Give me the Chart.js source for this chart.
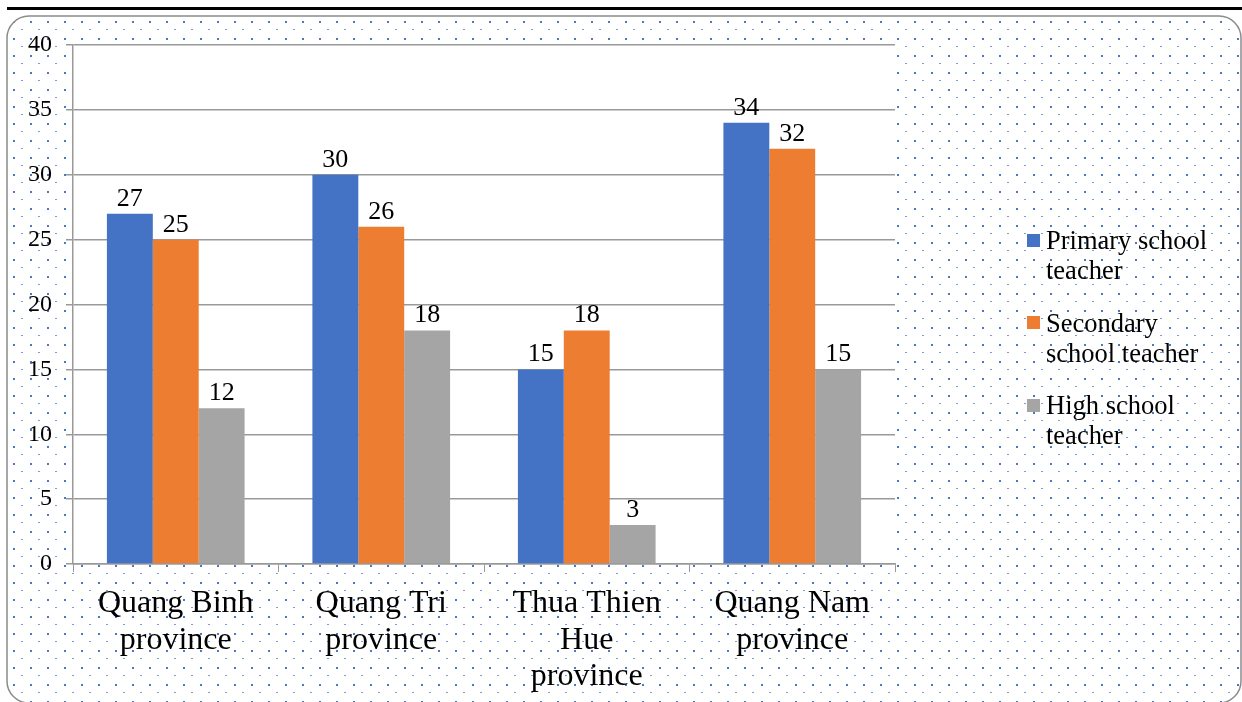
<!DOCTYPE html>
<html>
<head>
<meta charset="utf-8">
<script src="https://cdn.jsdelivr.net/npm/chart.js@4/dist/chart.umd.min.js"></script>
<style>
  html, body { margin: 0; padding: 0; background: #fff; }
  #wrap { position: relative; width: 1242px; height: 702px; overflow: hidden; }
  #chart { position: absolute; left: 0; top: 0; }
  #legend { position: absolute; left: 1027px; top: 225px; width: 195px;
            font-family: "Liberation Serif", "Times New Roman", serif; font-size: 26.5px;
            line-height: 30px; color: #000; }
  #legend .item { position: relative; padding-left: 19px; margin-bottom: 22.5px; }
  #legend .box { position: absolute; left: 0; top: 8.5px; width: 13px; height: 13px; }
</style>
</head>
<body>
<div id="wrap">
  <canvas id="chart" width="1242" height="702"></canvas>
  <div id="legend"></div>
</div>
<script>
const categories = [
    ["Quang Binh", "province"],
    ["Quang Tri", "province"],
    ["Thua Thien", "Hue", "province"],
    ["Quang Nam", "province"]
];
const seriesNames = ["Primary school teacher", "Secondary school teacher", "High school teacher"];
const seriesColors = ["#4472C4", "#ED7D31", "#A5A5A5"];
const primaryValues = [27, 30, 15, 34];
const secondaryValues = [25, 26, 18, 32];
const highValues = [12, 18, 3, 15];
const yTicks = [0, 5, 10, 15, 20, 25, 30, 35, 40];

const serif = "'Liberation Serif', 'Times New Roman', serif";

// Frame: top rule, rounded dotted box, white plot area
const framePlugin = {
    id: "frame",
    beforeDraw(chart) {
        const ctx = chart.ctx;
        const area = chart.chartArea;
        ctx.save();
        ctx.fillStyle = "#fff";
        ctx.fillRect(0, 0, chart.width, chart.height);

        // dot pattern
        const pc = document.createElement("canvas");
        pc.width = 17; pc.height = 17;
        const p = pc.getContext("2d");
        p.fillStyle = "#4a78c8";
        p.fillRect(13, 4, 2, 2);
        p.fillStyle = "#7b9ad6";
        p.fillRect(4, 12, 2, 1);
        const pattern = ctx.createPattern(pc, "repeat");

        const x0 = 7, y0 = 16, x1 = 1241, y1 = 703, r = 22;
        ctx.beginPath();
        ctx.moveTo(x0 + r, y0);
        ctx.lineTo(x1 - r, y0);
        ctx.arcTo(x1, y0, x1, y0 + r, r);
        ctx.lineTo(x1, y1 - r);
        ctx.arcTo(x1, y1, x1 - r, y1, r);
        ctx.lineTo(x0 + r, y1);
        ctx.arcTo(x0, y1, x0, y1 - r, r);
        ctx.lineTo(x0, y0 + r);
        ctx.arcTo(x0, y0, x0 + r, y0, r);
        ctx.closePath();
        ctx.fillStyle = pattern;
        ctx.fill();
        ctx.strokeStyle = "#8c8c8c";
        ctx.lineWidth = 1.5;
        ctx.stroke();

        // thick black rule on top
        ctx.fillStyle = "#000";
        ctx.fillRect(7, 7, chart.width - 7, 3);

        ctx.fillStyle = "#fff";
        ctx.fillRect(area.left, area.top, area.right - area.left, area.bottom - area.top);
        ctx.restore();
    }
};

// Values above each bar
const valueLabels = {
    id: "valueLabels",
    afterDatasetsDraw(chart) {
        const ctx = chart.ctx;
        ctx.save();
        ctx.font = "26px " + serif;
        ctx.fillStyle = "#000";
        ctx.textAlign = "center";
        ctx.textBaseline = "alphabetic";
        chart.data.datasets.forEach((ds, i) => {
            chart.getDatasetMeta(i).data.forEach((bar, j) => {
                ctx.fillText(ds.data[j], bar.x, bar.y - 8);
            });
        });
        ctx.restore();
    }
};

const valueSets = [primaryValues, secondaryValues, highValues];

new Chart(document.getElementById("chart").getContext("2d"), {
    type: "bar",
    data: {
        labels: categories,
        datasets: seriesNames.map((name, i) => ({
            label: name,
            data: valueSets[i],
            backgroundColor: seriesColors[i],
            borderWidth: 0
        }))
    },
    options: {
        responsive: false,
        animation: false,
        layout: { padding: { left: 0, top: 45, right: 347, bottom: 0 } },
        plugins: { legend: { display: false }, tooltip: { enabled: false } },
        datasets: { bar: { categoryPercentage: 0.67, barPercentage: 1.0 } },
        scales: {
            x: {
                afterFit(scale) { scale.height = 138; },
                grid: { drawOnChartArea: false, drawTicks: true, tickLength: 8, color: "#999", offset: true },
                border: { color: "#999", width: 1.5 },
                ticks: { font: { family: serif, size: 32, lineHeight: 1.13 }, color: "#000", padding: 14,
                         maxRotation: 0, autoSkip: false }
            },
            y: {
                min: 0, max: 40,
                afterFit(scale) { scale.width = 73; },
                afterBuildTicks(scale) { scale.ticks = yTicks.map(v => ({ value: v })); },
                grid: { color: "#999", lineWidth: 1.5, tickLength: 7 },
                border: { color: "#999", width: 1.5 },
                ticks: { font: { family: serif, size: 24 }, color: "#000", padding: 14 }
            }
        }
    },
    plugins: [framePlugin, valueLabels]
});

// legend as html text
const legendEl = document.getElementById("legend");
seriesNames.forEach((name, i) => {
    const item = document.createElement("div");
    item.className = "item";
    const box = document.createElement("span");
    box.className = "box";
    box.style.background = seriesColors[i];
    item.appendChild(box);
    item.appendChild(document.createTextNode(name));
    legendEl.appendChild(item);
});
</script>
</body>
</html>
